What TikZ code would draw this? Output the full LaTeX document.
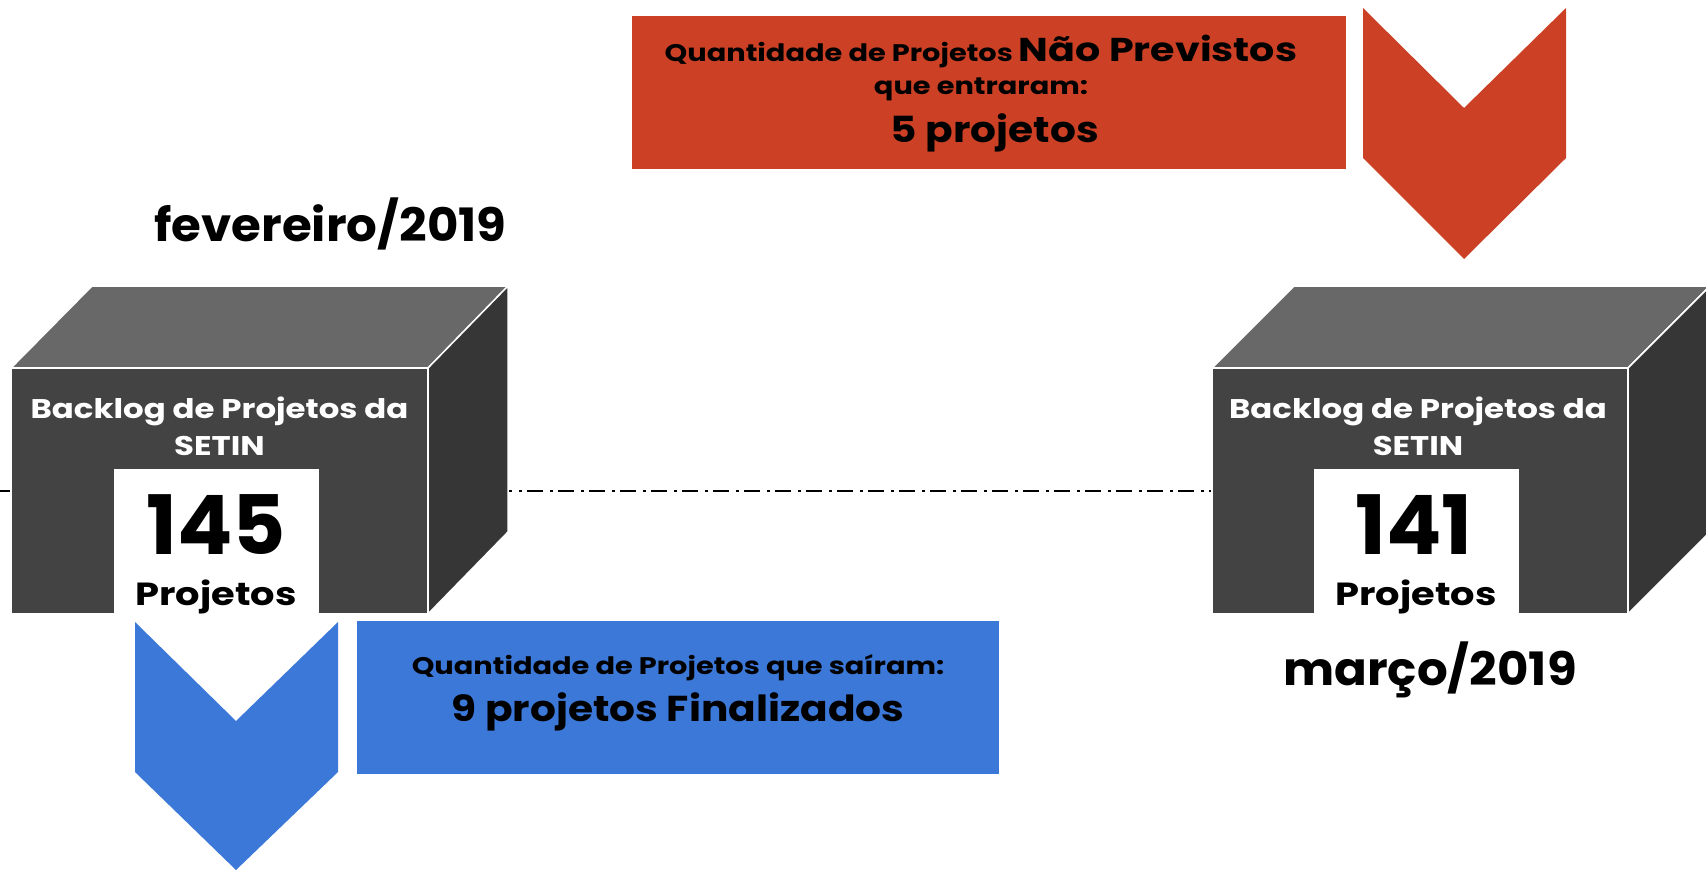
\documentclass[tikz,border=0pt]{standalone}
\usepackage{fontspec}
\setmainfont{Poppins}
\newfontfamily\wA{Poppins}[FakeStretch=1.2]
\newfontfamily\wB{Poppins}[FakeStretch=1.13]
\newfontfamily\wC{Poppins}[FakeStretch=1.05]
\definecolor{redberry}{HTML}{CC4125}
\definecolor{cblue}{HTML}{3C78D8}
\definecolor{frontgray}{HTML}{434343}
\definecolor{topgray}{HTML}{686868}
\definecolor{sidegray}{HTML}{363636}
\tikzset{
  front/.style={fill=frontgray, draw=white, line width=1.5pt},
  topface/.style={fill=topgray, draw=white, line width=1.5pt, line join=round},
  sideface/.style={fill=sidegray, draw=white, line width=1.5pt, line join=round},
  whitewin/.style={fill=white, draw=none},
  timeline/.style={line width=1.8pt, dash pattern=on 16pt off 7pt on 3pt off 5pt},
  boxtitle/.style={text=white, font=\wA\bfseries\fontsize{27}{37}\selectfont, align=center},
  bignum/.style={font=\bfseries\fontsize{82}{82}\selectfont},
  projlbl/.style={font=\wA\bfseries\fontsize{32}{32}\selectfont},
  datelbl/.style={font=\wC\bfseries\fontsize{46}{46}\selectfont},
  smalltxt/.style={font=\wA\bfseries\fontsize{24}{24}\selectfont},
  largetxt/.style={font=\wB\bfseries\fontsize{36}{36}\selectfont},
}
\begin{document}
\begin{tikzpicture}[x=1pt,y=-1pt]
\useasboundingbox (0,0) rectangle (1706,871);
% timeline
\coordinate (tlstart) at (0,491);
\node[inner sep=0, minimum width=416pt, minimum height=246pt] (rfront) at (1420,491) {};
\draw[timeline] (tlstart) -- (rfront.west);

% left box
\path[topface] (11,368) -- (92,286) -- (508,286) -- (428,368) -- cycle;
\path[sideface] (428,368) -- (508,286) -- (508,532) -- (428,614) -- cycle;
\node[front, inner sep=0, minimum width=417pt, minimum height=246pt] (lfront) at (219.5,491) {};
\path[whitewin] (114,469) rectangle (319,616);
\node[boxtitle] (ltitle) at (219.5,426) {Backlog de Projetos da\\SETIN};
\node[bignum] (lnum) at (216,525) {145};
\node[projlbl] (lproj) at (216,597) {Projetos};

% right box
\path[topface] (1212,368) -- (1294,286) -- (1710,286) -- (1628,368) -- cycle;
\path[sideface] (1628,368) -- (1710,286) -- (1710,532) -- (1628,614) -- cycle;
\path[front] (1212,368) rectangle (1628,614);
\path[whitewin] (1314,469) rectangle (1519,616);
\node[boxtitle] (rtitle) at (1418,426) {Backlog de Projetos da\\SETIN};
\node[bignum] (rnum) at (1414,525) {141};
\node[projlbl] (rproj) at (1416,597) {Projetos};

% dates
\node[datelbl, anchor=east] (feb) at (510,224) {fevereiro/2019};
\node[datelbl] (mar) at (1430,670) {março/2019};

% red (incoming)
\node[fill=redberry, inner sep=0, minimum width=714pt, minimum height=153pt] (redbox) at (989,92.5) {};
\node[smalltxt] (redl1) at (981,51) {Quantidade de Projetos \fontsize{33}{33}\selectfont Não Previstos};
\node[smalltxt] (redl2) at (981,89) {que entraram:};
\node[largetxt] (redl3) at (995,133) {5 projetos};
\path[fill=redberry] (1363,8) -- (1464,108) -- (1566,8) -- (1566,158) -- (1464,259) -- (1363,158) -- cycle;

% blue (outgoing)
\node[fill=cblue, inner sep=0, minimum width=642pt, minimum height=153pt] (bluebox) at (678,697.5) {};
\node[smalltxt] (bluel1) at (678,668) {Quantidade de Projetos que saíram:};
\node[largetxt] (bluel2) at (678,712) {9 projetos Finalizados};
\path[fill=cblue] (135,622) -- (236,721) -- (338,622) -- (338,772) -- (236,870) -- (135,772) -- cycle;
\end{tikzpicture}
\end{document}
